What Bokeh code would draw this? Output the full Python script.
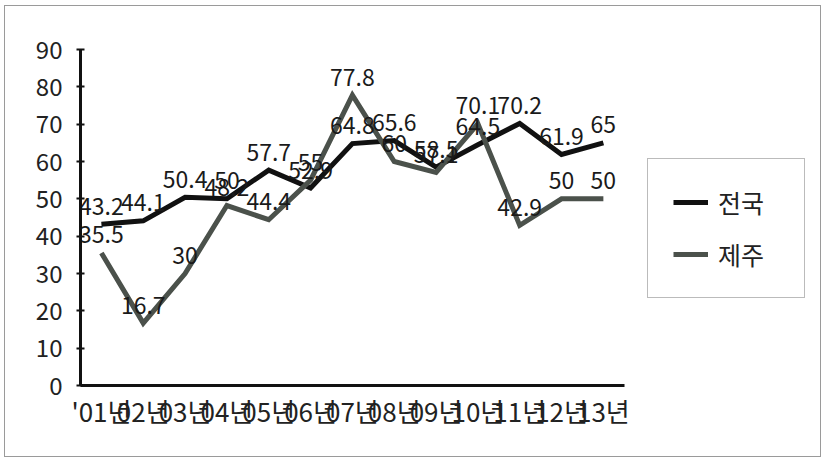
from bokeh.plotting import figure
from bokeh.models import (ColumnDataSource, FixedTicker, Legend, LegendItem,
                          InlineStyleSheet)
from bokeh.core.properties import value
from bokeh.embed import file_html
from bokeh.resources import INLINE

# ---- data ----
years = ["'01년", "02년", "03년", "04년", "05년", "06년", "07년",
         "08년", "09년", "10년", "11년", "12년", "13년"]
nation = [43.2, 44.1, 50.4, 50, 57.7, 52.9, 64.8, 65.6, 58.5, 64.5, 70.2, 61.9, 65]
jeju = [35.5, 16.7, 30, 48.2, 44.4, 55, 77.8, 60, 57.1, 70.1, 42.9, 50, 50]
series_names = ["전국", "제주"]
y_ticks = [0, 10, 20, 30, 40, 50, 60, 70, 80, 90]

FONT = "Noto Sans CJK KR"
xs = list(range(len(years)))

# layout constants
frame_left, frame_right, frame_top, frame_bottom = 80, 815, 49, 385
W, H = 824, 459
px_per_cat = 41.83
x_start = -0.5
x_end = x_start + (frame_right - frame_left) / px_per_cat

p = figure(width=W, height=H, output_backend="svg", toolbar_location=None,
           x_range=(x_start, x_end), y_range=(0, 90))
p.min_border = 0
p.min_border_left = frame_left
p.min_border_right = W - frame_right
p.min_border_top = frame_top
p.min_border_bottom = H - frame_bottom
p.outline_line_color = None
p.xgrid.visible = False
p.ygrid.visible = False
p.background_fill_color = "white"
p.border_fill_color = "white"
p.stylesheets = [InlineStyleSheet(css="""
:host::after {
  content: "";
  position: absolute;
  left: 4px; top: 5px; right: 3px; bottom: 2px;
  border: 1.5px solid #9a9a9a;
  pointer-events: none;
  z-index: 100;
}
""")]

# axes
xa = p.xaxis[0]
xa.ticker = FixedTicker(ticks=xs)
xa.major_label_overrides = {i: t for i, t in enumerate(years)}
xa.bounds = (-0.5, len(years) - 0.5)
xa.axis_line_width = 3
xa.axis_line_color = "#111111"
xa.major_tick_in = 0
xa.major_tick_out = 0
xa.minor_tick_line_color = None
xa.major_label_text_font = FONT
xa.major_label_text_font_size = "26px"
xa.major_label_text_color = "#222222"
xa.major_label_standoff = 6

ya = p.yaxis[0]
ya.ticker = FixedTicker(ticks=y_ticks)
ya.axis_line_width = 3
ya.axis_line_color = "#111111"
ya.major_tick_in = 4
ya.major_tick_out = 4
ya.major_tick_line_width = 2
ya.major_tick_line_color = "#111111"
ya.minor_tick_line_color = None
ya.major_label_text_font = FONT
ya.major_label_text_font_size = "24px"
ya.major_label_text_color = "#222222"
ya.major_label_standoff = 14

# lines
src = ColumnDataSource(dict(x=xs, nation=nation, jeju=jeju,
                            nation_t=[f"{v:g}" for v in nation],
                            jeju_t=[f"{v:g}" for v in jeju]))
r1 = p.line("x", "nation", source=src, line_color="#111111", line_width=5,
            line_join="miter")
r2 = p.line("x", "jeju", source=src, line_color="#4b514b", line_width=5,
            line_join="miter")

# data labels
for col in ["nation", "jeju"]:
    p.text("x", col, text=col + "_t", source=src, text_align="center",
           text_baseline="alphabetic", y_offset=-18,
           text_font=value(FONT), text_font_size="23px",
           text_color="#1a1a1a")

# legend
legend = Legend(items=[LegendItem(label=series_names[0], renderers=[r1]),
                       LegendItem(label=series_names[1], renderers=[r2])],
                location=(567, 87), orientation="vertical",
                label_text_font=FONT, label_text_font_size="25px",
                label_text_color="#222222",
                glyph_width=35, glyph_height=30, label_height=30,
                label_width=61,
                label_standoff=10, spacing=16, padding=25, margin=0,
                border_line_color="#777777", border_line_width=1.5,
                background_fill_color="white", background_fill_alpha=1)
p.add_layout(legend, "center")

open("out.html", "w").write(file_html(p, INLINE))
